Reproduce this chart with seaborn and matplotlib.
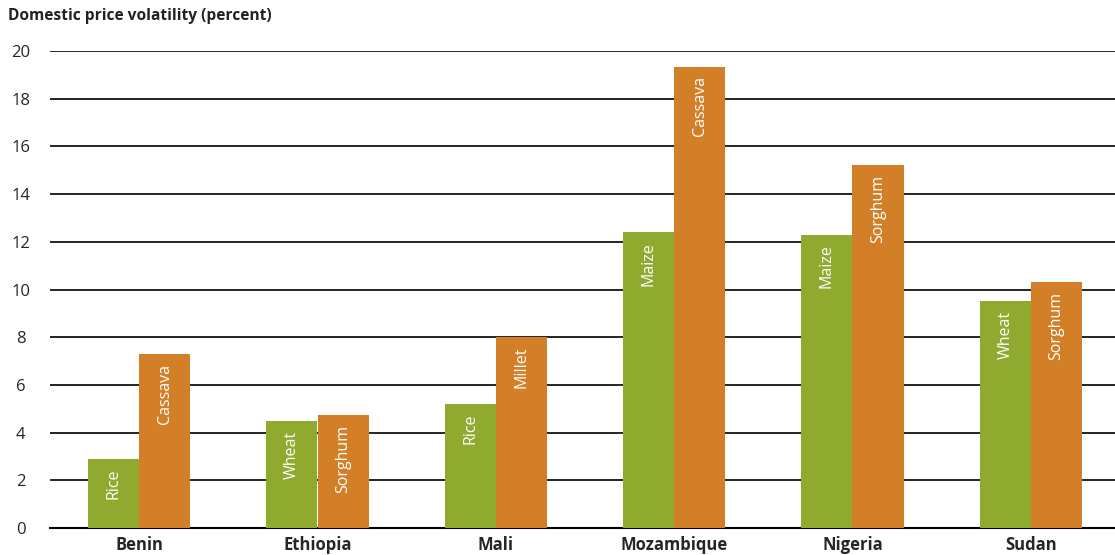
import matplotlib
matplotlib.use("Agg")
import matplotlib.pyplot as plt
import seaborn as sns
import pandas as pd
from matplotlib.ticker import FixedLocator

countries = ["Benin", "Ethiopia", "Mali", "Mozambique", "Nigeria", "Sudan"]
crop1_names = ["Rice", "Wheat", "Rice", "Maize", "Maize", "Wheat"]
crop1_values = [2.9, 4.5, 5.2, 12.4, 12.3, 9.5]
crop2_names = ["Cassava", "Sorghum", "Millet", "Cassava", "Sorghum", "Sorghum"]
crop2_values = [7.3, 4.75, 8.0, 19.35, 15.2, 10.3]
yticks = [0, 2, 4, 6, 8, 10, 12, 14, 16, 18, 20]

green = "#8FAA2E"
orange = "#D27F27"

df = pd.DataFrame({
    "country": countries * 2,
    "series": ["first"] * len(countries) + ["second"] * len(countries),
    "value": crop1_values + crop2_values,
})

sns.set_theme(style="white")
plt.rcParams["font.family"] = ["Open Sans", "DejaVu Sans"]

fig = plt.figure(figsize=(11.15, 5.55), dpi=100)
ax = fig.add_axes([50 / 1115, 1 - 528 / 555, 1070 / 1115, (528 - 51) / 555])

sns.barplot(data=df, x="country", y="value", hue="series", order=countries,
            hue_order=["first", "second"], palette=[green, orange],
            width=0.573, gap=0, saturation=1, linewidth=0, legend=False, ax=ax,
            zorder=3)

for cont, names in zip(ax.containers, [crop1_names, crop2_names]):
    texts = ax.bar_label(cont, labels=names, padding=-7, rotation=90,
                         color="white", fontsize=11.5, zorder=4)
    for t in texts:
        t.set_va("top")

ax.set_ylim(0, 20)
ax.set_xlim(-0.5, 5.5)
ax.set_yticks(yticks)
ax.set_yticklabels([str(v) for v in yticks], fontsize=12)
ax.yaxis.grid(True, color="black", linewidth=1.2)
ax.set_axisbelow(True)
ax.tick_params(axis="y", length=0, pad=21)
for lbl in ax.get_yticklabels():
    lbl.set_horizontalalignment("center")

ax.set_xticks(range(len(countries)))
ax.set_xticklabels(countries, fontsize=12, fontweight="bold")
ax.tick_params(axis="x", which="major", length=0, pad=6)
ax.xaxis.set_minor_locator(FixedLocator([i - 0.5 for i in range(len(countries) + 1)]))
ax.tick_params(axis="x", which="minor", length=5, width=2, direction="out", color="black")

for s in ["top", "right", "left"]:
    ax.spines[s].set_visible(False)
ax.spines["bottom"].set_color("black")
ax.spines["bottom"].set_linewidth(1.5)
ax.set_xlabel("")
ax.set_ylabel("")

fig.text(8 / 1115, 1 - 8 / 555, "Domestic price volatility (percent)",
         fontsize=11.2, fontweight="bold", va="top", ha="left", color="#222222")

fig.savefig("out.png", dpi=100)
